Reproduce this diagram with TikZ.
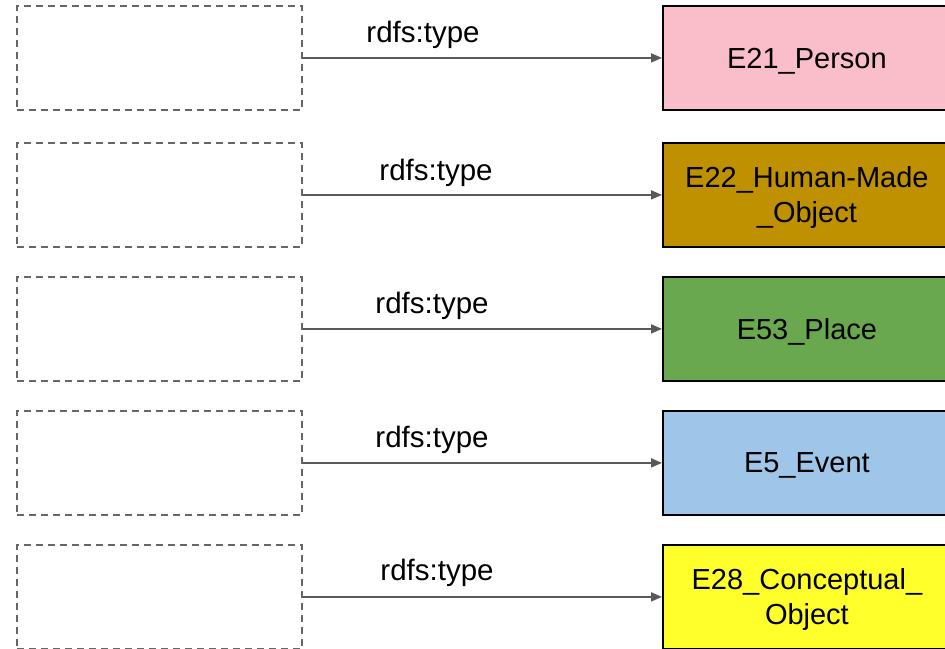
\documentclass[tikz,border=0pt]{standalone}
\usepackage{fontspec}
\setmainfont{Liberation Sans}
\usetikzlibrary{arrows.meta}
\definecolor{cpink}{HTML}{F9BEC9}
\definecolor{cgold}{HTML}{BF9000}
\definecolor{cgreen}{HTML}{6AA84F}
\definecolor{cblue}{HTML}{9FC5E8}
\definecolor{cyellow}{HTML}{FFFF2C}
\definecolor{dashgray}{HTML}{666666}
\definecolor{arrowgray}{HTML}{595959}
\tikzset{
  emptybox/.style={draw=dashgray, line width=1.8pt, dash pattern=on 7pt off 5pt,
    minimum width=285pt, minimum height=104pt, anchor=north west, inner sep=0pt},
  classbox/.style={draw=black, line width=1.8pt, minimum width=288pt, minimum height=104pt,
    anchor=north west, inner sep=0pt, align=center, text depth=0pt,
    font=\fontsize{29}{35}\selectfont},
  rel/.style={draw=arrowgray, line width=1.8pt,
    -{Triangle[length=11pt,width=9pt]}},
  lab/.style={anchor=base, inner sep=0pt, font=\fontsize{29.5}{33}\selectfont}
}
\begin{document}
\begin{tikzpicture}[x=1pt,y=-1pt]
\useasboundingbox (0,0) rectangle (945,648);
\begin{scope}
\clip (0,0) rectangle (945,648);
% row 1
\node[emptybox] (s1) at (16,5) {};
\node[classbox, fill=cpink] (c1) at (662,5) {E21\_Person};
\draw[rel] (s1.east) -- (c1.west);
\node[lab] (l1) at (423,42) {rdfs:type};
% row 2
\node[emptybox] (s2) at (16,142) {};
\node[classbox, fill=cgold] (c2) at (662,142) {E22\_Human-Made\\\_Object};
\draw[rel] (s2.east) -- (c2.west);
\node[lab] (l2) at (436,180) {rdfs:type};
% row 3
\node[emptybox] (s3) at (16,276) {};
\node[classbox, fill=cgreen] (c3) at (662,276) {E53\_Place};
\draw[rel] (s3.east) -- (c3.west);
\node[lab] (l3) at (432,313) {rdfs:type};
% row 4
\node[emptybox] (s4) at (16,410) {};
\node[classbox, fill=cblue] (c4) at (662,410) {E5\_Event};
\draw[rel] (s4.east) -- (c4.west);
\node[lab] (l4) at (432,447) {rdfs:type};
% row 5
\node[emptybox] (s5) at (16,544) {};
\node[classbox, fill=cyellow] (c5) at (662,544) {E28\_Conceptual\_\\Object};
\draw[rel] (s5.east) -- (c5.west);
\node[lab] (l5) at (437,580) {rdfs:type};
\end{scope}
\end{tikzpicture}
\end{document}
